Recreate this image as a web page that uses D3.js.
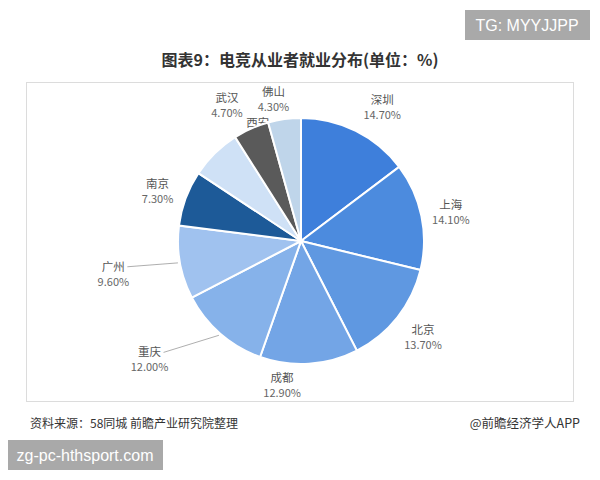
<!DOCTYPE html>
<html>
<head>
<meta charset="utf-8">
<script src="https://cdn.jsdelivr.net/npm/d3@7"></script>
<style>
  body { margin: 0; background: #fff; }
  text { font-family: "Noto Sans CJK SC", "Noto Sans", sans-serif; }
</style>
</head>
<body>
<div id="chart"></div>
<script>
(function() {
  var width = 600, height = 480;

  // data
  var cities = ["深圳", "上海", "北京", "成都", "重庆", "广州", "南京", "西安", "武汉", "佛山"];
  var shares = [14.7, 14.1, 13.7, 12.9, 12.0, 9.6, 7.3, 6.7, 4.7, 4.3];
  var colors = ["#3e7fdb", "#4c8bde", "#5f98e1", "#73a5e6", "#86b2ea", "#a0c2ef", "#1d5a98", "#cfe1f6", "#5a5a5a", "#bfd5ea"];

  // label nudges from the default spot, and which ones get a leader line
  var nudge = {
    "深圳": [13, 3], "上海": [0, 2], "北京": [2, 1], "成都": [-29, -9],
    "重庆": [-51, 3], "广州": [-37, 6], "南京": [0, 3],
    "西安": [64, -2], "武汉": [-12, 4], "佛山": [-7, 10]
  };
  var leader = { "重庆": true, "广州": true };

  var cx = 301, cy = 241, radius = 123;

  var svg = d3.select("#chart")
    .append("svg")
    .attr("width", width)
    .attr("height", height);

  // frame
  svg.append("rect")
    .attr("x", 26.5).attr("y", 82.5)
    .attr("width", 547).attr("height", 319)
    .attr("fill", "none")
    .attr("stroke", "#dcdcdc");

  svg.append("text")
    .attr("x", 300).attr("y", 66)
    .attr("text-anchor", "middle")
    .attr("font-size", 16)
    .attr("font-weight", "bold")
    .attr("fill", "#333")
    .text("图表9：电竞从业者就业分布(单位：%)");

  var datapoints = cities.map(function(c, i) {
    return { city: c, value: shares[i], color: colors[i] };
  });

  var pie = d3.pie().sort(null).value(function(d) { return d.value; });
  var arcs = pie(datapoints);

  var arc = d3.arc().innerRadius(0).outerRadius(radius);
  var labelArc = d3.arc().innerRadius(153).outerRadius(153);
  var edgeArc = d3.arc().innerRadius(125).outerRadius(125);

  var g = svg.append("g")
    .attr("transform", "translate(" + cx + "," + cy + ")");

  function labelPos(d) {
    var c = labelArc.centroid(d);
    var n = nudge[d.data.city] || [0, 0];
    return [c[0] + n[0], c[1] + n[1]];
  }

  // labels go first so the slices can cover the one that Excel hid
  var labels = g.selectAll(".label")
    .data(arcs)
    .enter()
    .append("g")
    .attr("class", "label")
    .attr("transform", function(d) {
      var p = labelPos(d);
      return "translate(" + p[0] + "," + p[1] + ")";
    });

  labels.append("text")
    .attr("text-anchor", "middle")
    .attr("y", -3)
    .attr("font-size", 11.5)
    .attr("fill", "#555")
    .text(function(d) { return d.data.city; });

  labels.append("text")
    .attr("text-anchor", "middle")
    .attr("y", 12)
    .attr("font-size", 11)
    .attr("fill", "#666")
    .text(function(d) { return d.data.value.toFixed(2) + "%"; });

  g.selectAll(".leader")
    .data(arcs.filter(function(d) { return leader[d.data.city]; }))
    .enter()
    .append("polyline")
    .attr("class", "leader")
    .attr("fill", "none")
    .attr("stroke", "#999")
    .attr("stroke-width", 0.8)
    .attr("points", function(d) {
      var p = labelPos(d);
      var e = edgeArc.centroid(d);
      return (p[0] + 14) + "," + (p[1] - 7) + " " + e[0] + "," + e[1];
    });

  g.selectAll(".slice")
    .data(arcs)
    .enter()
    .append("path")
    .attr("class", "slice")
    .attr("d", arc)
    .attr("fill", function(d) { return d.data.color; })
    .attr("stroke", "#fff")
    .attr("stroke-width", 2);

  // footer
  svg.append("text")
    .attr("x", 30).attr("y", 428)
    .attr("font-size", 12)
    .attr("fill", "#333")
    .text("资料来源：58同城 前瞻产业研究院整理");

  svg.append("text")
    .attr("x", 580).attr("y", 428)
    .attr("text-anchor", "end")
    .attr("font-size", 12.5)
    .attr("fill", "#333")
    .text("@前瞻经济学人APP");

  // stamp boxes
  svg.append("rect")
    .attr("x", 465).attr("y", 10)
    .attr("width", 125).attr("height", 30)
    .attr("fill", "#a9a9a9");
  svg.append("text")
    .attr("x", 527).attr("y", 31)
    .attr("text-anchor", "middle")
    .attr("font-family", "Liberation Sans, Arial, sans-serif")
    .attr("style", "font-family: 'Liberation Sans', Arial, sans-serif")
    .attr("font-size", 16)
    .attr("fill", "#fff")
    .text("TG: MYYJJPP");

  svg.append("rect")
    .attr("x", 8).attr("y", 440)
    .attr("width", 155).attr("height", 30)
    .attr("fill", "#a9a9a9");
  svg.append("text")
    .attr("x", 85).attr("y", 461)
    .attr("text-anchor", "middle")
    .attr("style", "font-family: 'Liberation Sans', Arial, sans-serif")
    .attr("font-size", 16)
    .attr("fill", "#fff")
    .text("zg-pc-hthsport.com");
})();
</script>
</body>
</html>
